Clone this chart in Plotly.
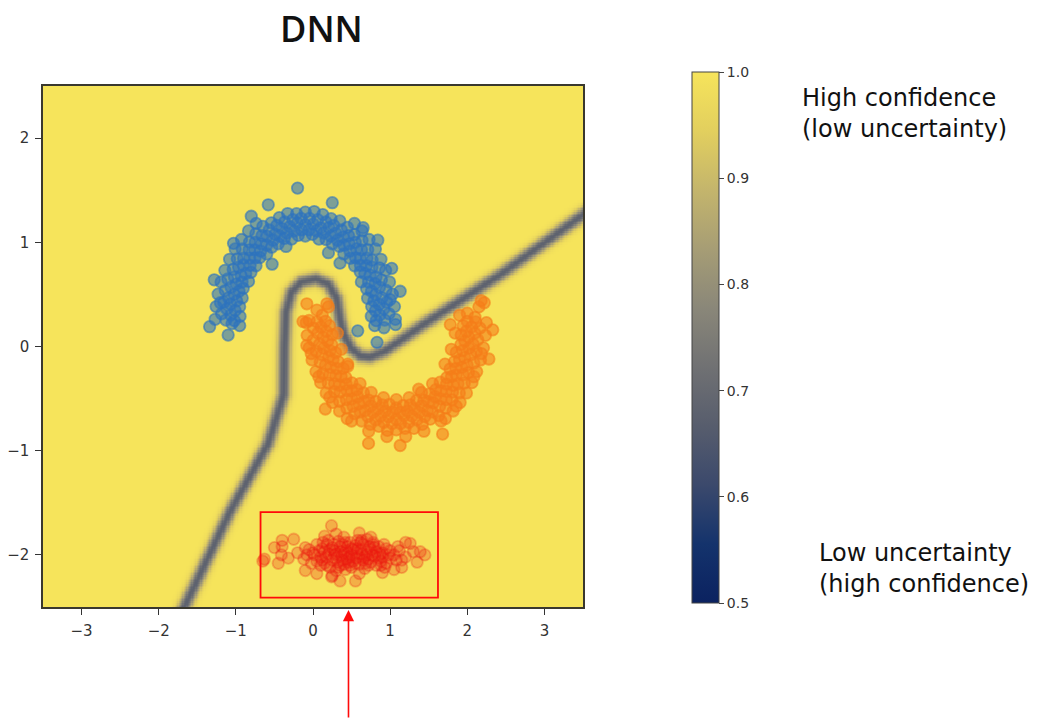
import numpy as np
import plotly.graph_objects as go

# Decision boundary of the classifier (data coordinates), traced as a polyline
boundary = [(-1.70, -2.55), (-1.08, -1.59), (-0.58, -0.93), (-0.38, -0.46),
            (-0.37, 0.00), (-0.35, 0.33), (-0.28, 0.52), (-0.15, 0.62),
            (0.04, 0.65), (0.20, 0.60), (0.31, 0.46), (0.35, 0.27),
            (0.40, 0.12), (0.50, -0.02), (0.62, -0.09), (0.74, -0.10),
            (0.93, -0.045), (1.43, 0.21), (2.43, 0.69), (3.55, 1.29)]
boundary_conf = 0.68   # confidence right on the boundary
far_conf = 1.0         # confidence away from the boundary

# Class 0 (upper moon)
blue_pts = [
    (.756, .290), (.865, .302), (.985, .314), (.761, .383), (.858, .404), (.956, .425),
    (.708, .463), (.813, .497), (.946, .540), (.695, .554), (.805, .603), (.887, .640),
    (.627, .620), (.740, .685), (.861, .755), (.612, .717), (.693, .776), (.766, .829),
    (.539, .775), (.613, .842), (.710, .929), (.482, .846), (.562, .936), (.636, 1.017),
    (.400, .888), (.470, .985), (.535, 1.074), (.340, .962), (.390, 1.049), (.445, 1.144),
    (.250, .986), (.295, 1.087), (.348, 1.205), (.169, 1.027), (.206, 1.141), (.234, 1.227),
    (.077, 1.031), (.100, 1.139), (.127, 1.266), (-.008, 1.076), (.003, 1.175), (.016, 1.295),
    (-.100, 1.060), (-.100, 1.170), (-.100, 1.290), (-.191, 1.066), (-.204, 1.185), (-.213, 1.275),
    (-.277, 1.031), (-.302, 1.149), (-.329, 1.276), (-.372, 1.037), (-.403, 1.132), (-.437, 1.237),
    (-.450, .986), (-.491, 1.077), (-.540, 1.187), (-.535, .953), (-.595, 1.057), (-.650, 1.153),
    (-.600, .888), (-.670, .985), (-.741, 1.082), (-.689, .854), (-.756, .928), (-.823, 1.002),
    (-.739, .775), (-.821, .849), (-.917, .936), (-.804, .712), (-.901, .782), (-.982, .841),
    (-.836, .625), (-.931, .680), (-1.035, .740), (-.904, .558), (-.996, .599), (-1.105, .648),
    (-.918, .466), (-1.022, .500), (-1.137, .537), (-.951, .381), (-1.068, .406), (-1.156, .425),
    (-.946, .289), (-1.065, .302), (-1.185, .314),
    (.819, .248), (.809, .344), (.789, .438), (.759, .530), (.720, .618), (.672, .701),
    (.615, .779), (.551, .851), (.479, .915), (.401, .972), (.318, 1.020), (.230, 1.059),
    (.138, 1.089), (.044, 1.109), (-.052, 1.119), (-.148, 1.119), (-.244, 1.109), (-.338, 1.089),
    (-.430, 1.059), (-.518, 1.020), (-.601, .972), (-.679, .915), (-.751, .851), (-.815, .779),
    (-.872, .701), (-.920, .618), (-.959, .530), (-.989, .438), (-1.009, .344), (-1.019, .248),
    (.929, .254), (.917, .361), (.895, .467), (.862, .569), (.818, .668), (.764, .761),
    (.700, .848), (.628, .928), (.548, 1.000), (.461, 1.064), (.368, 1.118), (.269, 1.162),
    (.167, 1.195), (.061, 1.217), (-.046, 1.229), (-.154, 1.229), (-.261, 1.217), (-.367, 1.195),
    (-.469, 1.162), (-.568, 1.118), (-.661, 1.064), (-.748, 1.000), (-.828, .928), (-.900, .848),
    (-.964, .761), (-1.018, .668), (-1.062, .569), (-1.095, .467), (-1.117, .361), (-1.129, .254),
    (1.068, .261), (1.056, .383), (1.030, .503), (.992, .619), (.942, .731), (.881, .837),
    (.809, .936), (.727, 1.027), (.636, 1.109), (.537, 1.181),
    (-.737, 1.181), (-.836, 1.109), (-.927, 1.027), (-1.009, .936), (-1.081, .837),
    (-1.142, .731), (-1.192, .619), (-1.230, .503), (-1.256, .383), (-1.268, .261),
    (-1.05, .22), (-.95, .20), (.80, .20), (.92, .18), (-1.20, .42), (1.00, .45),
    (-.20, 1.52), (-1.34, .19), (-1.10, .11), (.83, .04), (.58, .15), (1.13, .53),
    (.84, 1.02), (.65, 1.14), (-.53, .79), (-.35, .96), (.20, .90), (-.58, 1.36),
    (-1.28, .64), (.25, 1.38), (1.07, .21), (1.02, .75), (-.80, 1.25), (.35, .80),
    (-1.03, .99),
]

# Class 1 (lower moon)
orange_pts = [
    (.214, .199), (.105, .187), (.005, .177), (.249, .113), (.131, .088), (.004, .061),
    (.243, .018), (.139, -.016), (.043, -.047), (.294, -.060), (.203, -.101), (.093, -.150),
    (.327, -.145), (.231, -.200), (.127, -.260), (.392, -.210), (.295, -.280), (.198, -.351),
    (.426, -.299), (.344, -.372), (.278, -.433), (.505, -.349), (.438, -.423), (.344, -.527),
    (.568, -.414), (.504, -.503), (.439, -.592), (.655, -.446), (.595, -.550), (.540, -.645),
    (.722, -.514), (.677, -.615), (.632, -.715), (.814, -.528), (.780, -.632), (.743, -.747),
    (.899, -.561), (.876, -.668), (.855, -.766), (.991, -.556), (.978, -.675), (.964, -.805),
    (1.080, -.590), (1.080, -.700), (1.080, -.800), (1.170, -.566), (1.181, -.665), (1.193, -.785),
    (1.261, -.561), (1.284, -.668), (1.309, -.786), (1.343, -.518), (1.380, -.632), (1.417, -.747),
    (1.438, -.514), (1.483, -.615), (1.520, -.697), (1.510, -.455), (1.560, -.541), (1.630, -.663),
    (1.592, -.414), (1.656, -.503), (1.721, -.592), (1.649, -.342), (1.729, -.431), (1.803, -.512),
    (1.734, -.299), (1.816, -.372), (1.897, -.446), (1.776, -.216), (1.857, -.274), (1.962, -.351),
    (1.833, -.145), (1.929, -.200), (2.015, -.250), (1.857, -.056), (1.967, -.105), (2.085, -.158),
    (1.917, .018), (2.021, -.016), (2.117, -.047), (1.921, .111), (2.019, .090), (2.136, .065),
    (1.946, .199), (2.055, .187), (2.165, .176),
    (.161, .242), (.171, .146), (.191, .052), (.221, -.040), (.260, -.128), (.308, -.211),
    (.365, -.289), (.429, -.361), (.501, -.425), (.579, -.482), (.662, -.530), (.750, -.569),
    (.842, -.599), (.936, -.619), (1.032, -.629), (1.128, -.629), (1.224, -.619), (1.318, -.599),
    (1.410, -.569), (1.498, -.530), (1.581, -.482), (1.659, -.425), (1.731, -.361), (1.795, -.289),
    (1.852, -.211), (1.900, -.128), (1.939, -.040), (1.969, .052), (1.989, .146), (1.999, .242),
    (.051, .236), (.063, .129), (.085, .023), (.118, -.079), (.162, -.178), (.216, -.271),
    (.280, -.358), (.352, -.438), (.432, -.510), (.519, -.574), (.612, -.628), (.711, -.672),
    (.813, -.705), (.919, -.727), (1.026, -.739), (1.134, -.739), (1.241, -.727), (1.347, -.705),
    (1.449, -.672), (1.548, -.628), (1.641, -.574), (1.728, -.510), (1.808, -.438), (1.880, -.358),
    (1.944, -.271), (1.998, -.178), (2.042, -.079), (2.075, .023), (2.097, .129), (2.109, .236),
    (-.088, .229), (-.076, .107), (-.050, -.013), (-.012, -.129), (.038, -.241), (.099, -.347),
    (.171, -.446), (.253, -.537), (.344, -.619), (.443, -.691),
    (1.717, -.691), (1.816, -.619), (1.907, -.537), (1.989, -.446), (2.061, -.347),
    (2.122, -.241), (2.172, -.129), (2.210, -.013), (2.236, .107), (2.248, .229),
    (.610, -.357), (.754, -.441), (.914, -.492), (1.080, -.510), (1.246, -.492), (1.406, -.441),
    (1.550, -.357), (.500, -.715), (.722, -.813), (.958, -.864), (1.202, -.864), (1.438, -.813),
    (1.660, -.715), (1.856, -.572), (.317, .128), (.367, -.027), (.449, -.169), (1.711, -.169),
    (1.793, -.027), (1.843, .128), (-.023, -.068), (.075, -.290), (.218, -.486), (2.085, -.290),
    (2.183, -.068),
    (2.00, .32), (2.15, .38), (2.22, .42), (1.90, .30), (2.10, .28), (.05, .35),
    (.20, .38), (.12, .30), (-.05, .25),
    (-.08, .41), (.18, .41), (-.13, .24), (.16, -.60), (1.13, -.95), (1.68, -.84),
    (2.28, -.12), (2.33, .16), (2.18, .44), (1.78, .21), (-.08, .01), (.45, -.19),
    (1.37, -.41), (.72, -.93),
]

# Out-of-distribution cluster
red_pts = [
    (.50, -2.00), (.40, -1.98), (.60, -2.02), (.30, -2.03), (.70, -1.97), (.20, -1.99),
    (.80, -2.01), (.45, -1.92), (.55, -2.08), (.35, -2.10), (.65, -1.90), (.10, -2.02),
    (.90, -1.98), (.25, -1.93), (.75, -2.07), (.00, -1.98), (1.00, -2.03), (.15, -2.08),
    (.85, -1.92), (.50, -2.12), (.48, -1.88), (.38, -2.05), (.62, -1.95), (.28, -1.96),
    (.72, -2.04), (.05, -2.06), (.95, -1.94), (.42, -2.14), (.58, -1.86), (-.05, -1.95),
    (1.05, -2.00), (.18, -1.90), (.82, -2.10), (.33, -1.87), (.67, -2.13), (-.12, -2.04),
    (1.12, -1.96), (.52, -1.95), (.44, -2.04), (.30, -2.15), (.70, -1.85), (.12, -1.94),
    (.88, -2.06), (-.20, -1.98), (1.20, -2.02), (.60, -2.18), (.40, -1.83), (.22, -2.12),
    (.78, -1.88), (.56, -2.03), (.64, -1.99), (.36, -1.97), (.46, -2.07),
    (.05, -1.90), (.15, -1.97), (.25, -2.05), (.35, -1.92), (.45, -1.99), (.55, -1.91),
    (.65, -2.05), (.75, -1.95), (.85, -2.03), (.95, -2.08), (.10, -2.10), (.20, -1.86),
    (.30, -1.99), (.40, -2.09), (.50, -1.94), (.60, -2.09), (.70, -2.00), (.80, -1.93),
    (.90, -2.02), (1.00, -1.96), (.02, -2.00), (.12, -2.05), (.22, -1.95), (.32, -2.07),
    (.42, -1.88), (.52, -2.06), (.62, -1.88), (.72, -2.10), (.82, -1.97), (.92, -1.90),
    (.47, -2.02), (.57, -1.98), (.37, -2.01), (.67, -2.02), (.27, -1.90), (.77, -2.00),
    (.17, -2.02), (.87, -1.99), (-.08, -2.00), (1.08, -2.05),
    (-.10, -1.93), (-.02, -2.08), (.08, -1.96), (.18, -2.10), (.28, -2.00), (.38, -1.90),
    (.48, -2.10), (.58, -1.94), (.68, -2.08), (.78, -1.90), (.88, -2.10), (.98, -2.00),
    (1.10, -1.92), (1.15, -2.05), (.33, -2.12), (.63, -1.86), (.93, -2.12), (.13, -1.88),
    (.73, -1.92), (.43, -1.96),
    (-.32, -2.03), (1.30, -1.97), (-.40, -1.92), (1.35, -2.07), (-.45, -2.08), (1.45, -2.00),
    (-.65, -2.06), (-.50, -1.93), (.35, -2.25), (.25, -2.20), (.15, -1.82), (.30, -1.80),
    (.75, -1.83), (.90, -2.17), (1.05, -2.14), (-.10, -2.15), (1.20, -1.88), (.55, -2.25),
    (-.25, -1.85), (1.15, -2.12), (.60, -1.79), (.05, -2.18),
    (-.63, -2.04), (-.40, -1.86), (-.41, -2.00), (.24, -2.21), (.24, -1.72), (1.39, -1.97),
    (1.26, -1.89),
]

# Highlight box around the out-of-distribution cluster
box_x = (-0.68, 1.62)
box_y = (-2.41, -1.59)
arrow_x = 0.46

x_ticks = [-3, -2, -1, 0, 1, 2, 3]
y_ticks = [-2, -1, 0, 1, 2]
cbar_ticks = [0.5, 0.6, 0.7, 0.8, 0.9, 1.0]

# ---- confidence field around the decision boundary ----
xs = np.linspace(-3.5, 3.5, 421)
ys = np.linspace(-2.5, 2.5, 301)
gx, gy = np.meshgrid(xs, ys)
sx, sy = 77.0, 104.0            # screen pixels per data unit
px_, py_ = gx * sx, gy * sy
dist = np.full(gx.shape, np.inf)
for (x0, y0), (x1, y1) in zip(boundary[:-1], boundary[1:]):
    ax0, ay0, ax1, ay1 = x0 * sx, y0 * sy, x1 * sx, y1 * sy
    vx, vy = ax1 - ax0, ay1 - ay0
    t = ((px_ - ax0) * vx + (py_ - ay0) * vy) / (vx * vx + vy * vy)
    t = np.clip(t, 0, 1)
    d = np.hypot(px_ - (ax0 + t * vx), py_ - (ay0 + t * vy))
    dist = np.minimum(dist, d)
conf = far_conf - (far_conf - boundary_conf) * np.exp(-(dist / 6.5) ** 2)
conf = np.round(conf, 3)

cscale = [[0.0, '#0b2260'], [0.111, '#14336c'], [0.222, '#3b496c'], [0.333, '#575d6d'],
          [0.444, '#707173'], [0.556, '#8a8779'], [0.667, '#a69d75'], [0.778, '#c4b56c'],
          [0.889, '#e2cf5e'], [1.0, '#f6e45b']]

fig = go.Figure()
fig.add_trace(go.Heatmap(
    x=xs, y=ys, z=conf, zmin=0.5, zmax=1.0, colorscale=cscale, hoverinfo='skip',
    colorbar=dict(
        thickness=27, thicknessmode='pixels', len=531, lenmode='pixels',
        x=(692 - 43) / 540, xanchor='left', xpad=0,
        y=(607 - 72) / 521, yanchor='top', ypad=0,
        tickvals=cbar_ticks, ticktext=[f'{v:.1f}' for v in cbar_ticks],
        ticks='outside', ticklen=5, tickwidth=1, tickcolor='#444',
        tickfont=dict(family='DejaVu Sans', size=14, color='#333'),
        outlinewidth=1, outlinecolor='#444',
    ),
))


def add_points(pts, rgb, alpha, name):
    fig.add_trace(go.Scatter(
        x=[p[0] for p in pts], y=[p[1] for p in pts], mode='markers', name=name,
        marker=dict(size=11.5, color=f'rgba({rgb},{alpha})',
                    line=dict(width=1.8, color=f'rgba({rgb},{alpha})')),
        hoverinfo='skip', showlegend=False,
    ))


add_points(blue_pts, '45,115,190', 0.6, 'class 0')
add_points(orange_pts, '245,125,25', 0.6, 'class 1')
add_points(red_pts, '235,25,15', 0.26, 'OOD')

fig.add_shape(type='rect', xref='x', yref='y', x0=box_x[0], x1=box_x[1],
              y0=box_y[0], y1=box_y[1], line=dict(color='#ff0a0a', width=1.8))

axis_common = dict(showgrid=False, zeroline=False, showline=True, mirror=True,
                   linecolor='#3a382e', linewidth=1.5, ticks='outside', ticklen=6,
                   tickwidth=1, tickcolor='#333', ticklabelstandoff=3, automargin=False,
                   tickfont=dict(family='DejaVu Sans', size=15, color='#333'))
fig.update_xaxes(range=[-3.5, 3.5], tickvals=x_ticks, **axis_common)
fig.update_yaxes(range=[-2.5, 2.5], tickvals=y_ticks, **axis_common)

fig.add_annotation(x=arrow_x, y=-2.5, xref='x', yref='y', text='', showarrow=True,
                   ax=0, ay=112, axref='pixel', ayref='pixel', standoff=3,
                   arrowcolor='#ff0a0a', arrowwidth=1.6, arrowhead=2, arrowsize=1.4)

fig.add_annotation(x=(321 - 43) / 540, y=(607 - 28) / 521, xref='paper', yref='paper',
                   text='DNN', showarrow=False, xanchor='center', yanchor='middle',
                   font=dict(family='Open Sans', size=36, color='#111', weight=600))
fig.add_annotation(x=(800 - 43) / 540, y=(607 - 113) / 521, xref='paper', yref='paper',
                   text='High confidence<br>(low uncertainty)', showarrow=False,
                   xanchor='left', yanchor='middle', align='left',
                   font=dict(family='DejaVu Sans', size=24, color='#111'))
fig.add_annotation(x=(817 - 43) / 540, y=(607 - 568) / 521, xref='paper', yref='paper',
                   text='Low uncertainty<br>(high confidence)', showarrow=False,
                   xanchor='left', yanchor='middle', align='left',
                   font=dict(family='DejaVu Sans', size=24, color='#111'))

fig.update_layout(width=1039, height=725, margin=dict(l=43, r=456, t=86, b=118),
                  paper_bgcolor='white', plot_bgcolor='white')

fig.write_html('out.html')
